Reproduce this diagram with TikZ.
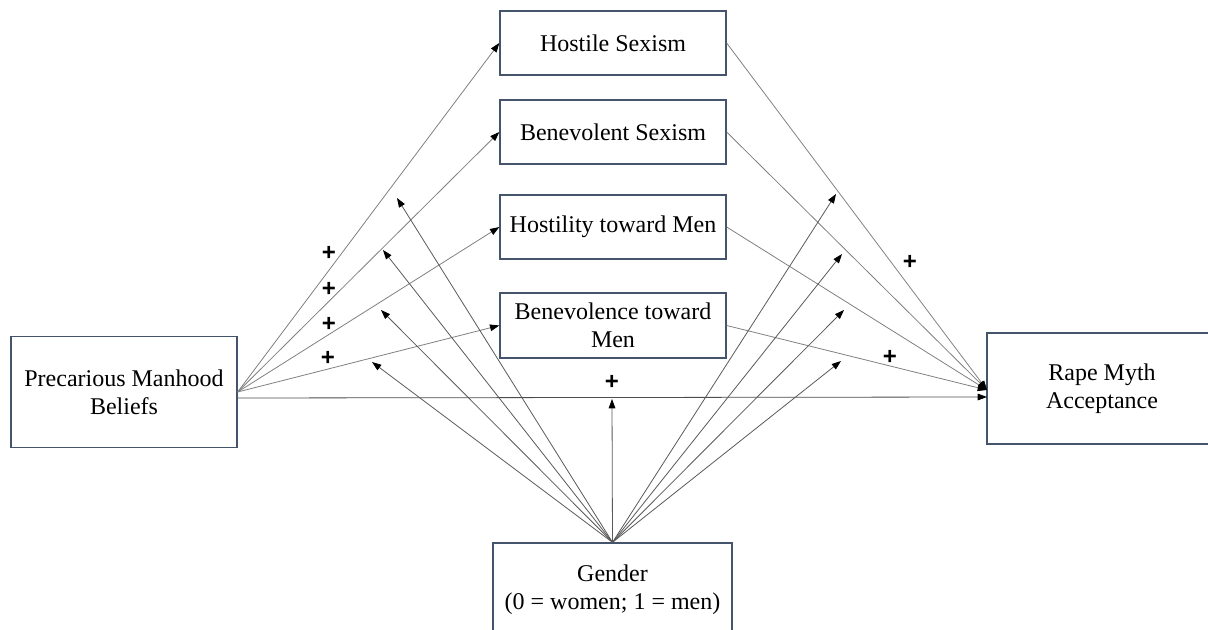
\documentclass[tikz,border=0pt]{standalone}
\usepackage{fontspec}
\setmainfont{Liberation Serif}
\newfontfamily\plusfont{Liberation Sans}
\usetikzlibrary{positioning,arrows.meta}
\definecolor{boxline}{RGB}{68,84,106}

\begin{document}
\begin{tikzpicture}[x=0.75pt, y=-0.75pt,
  box/.style={draw=boxline, line width=1pt, fill=white, align=center, font=\fontsize{18}{21}\selectfont, inner sep=2pt},
  med/.style={box, minimum width=169.5pt, minimum height=48pt},
  big/.style={box, minimum width=169.5pt, minimum height=83.25pt},
  plus/.style={font=\plusfont\bfseries\fontsize{18}{20}\selectfont, inner sep=0pt},
  arr/.style={-{Triangle[length=7pt,width=5pt,color=black]}, line width=0.6pt, draw=black!50},
  modarr/.style={arr, draw=black!65}]
\useasboundingbox (0,0) rectangle (1208,630);
\clip (0,0) rectangle (1208,630);
% boxes
\node[big] (pmb) at (124,392) {Precarious Manhood\\ Beliefs};
\node[med] (hs) at (613,43) {Hostile Sexism};
\node[med] (bs) at (613,132) {Benevolent Sexism};
\node[med] (htm) at (613,227) {Hostility toward Men};
\node[med, minimum height=48.75pt] (btm) at (613,325.5) {Benevolence toward\\ Men};
\node[big, minimum width=172.5pt] (rma) at (1102,388.5) {Rape Myth\\ Acceptance};
\node[box, minimum width=179.25pt, minimum height=70.5pt] (gen) at (612.5,590) {Gender\\ (0 = women; 1 = men)};
% end points
\coordinate (pmout) at (237,398); \coordinate (rmin) at (987,397); \coordinate (rmhub) at (987,390);
\coordinate (ma1) at (397,198); \coordinate (ma2) at (383,250); \coordinate (ma3) at (381,310); \coordinate (ma4) at (372,362);
\coordinate (mb1) at (836,194); \coordinate (mb2) at (842,254); \coordinate (mb3) at (844,310); \coordinate (mb4) at (841,361);
\coordinate (mc) at (612,399);
% a paths and b paths
\draw[arr] (pmb.east) -- (hs.west); \draw[arr] (pmb.east) -- (bs.west);
\draw[arr] (pmb.east) -- (htm.west); \draw[arr] (pmb.east) -- (btm.west);
\draw[arr] (hs.east) -- (rmhub); \draw[arr] (bs.east) -- (rmhub);
\draw[arr] (htm.east) -- (rmhub); \draw[arr] (btm.east) -- (rmhub);
\draw[arr, draw=black!70] (pmout) -- (rmin);
% moderation by gender
\draw[modarr] (gen.north) -- (ma1); \draw[modarr] (gen.north) -- (ma2); \draw[modarr] (gen.north) -- (ma3); \draw[modarr] (gen.north) -- (ma4);
\draw[modarr] (gen.north) -- (mb1); \draw[modarr] (gen.north) -- (mb2); \draw[modarr] (gen.north) -- (mb3); \draw[modarr] (gen.north) -- (mb4);
\draw[modarr] (gen.north) -- (mc);
% signs
\node[plus] (p1) at (329,253) {+}; \node[plus] (p2) at (329,289) {+};
\node[plus] (p3) at (329,324) {+}; \node[plus] (p4) at (328,358) {+};
\node[plus] (p5) at (910,262) {+}; \node[plus] (p6) at (890,357) {+};
\node[plus] (p7) at (612,382) {+};
\end{tikzpicture}
\end{document}
